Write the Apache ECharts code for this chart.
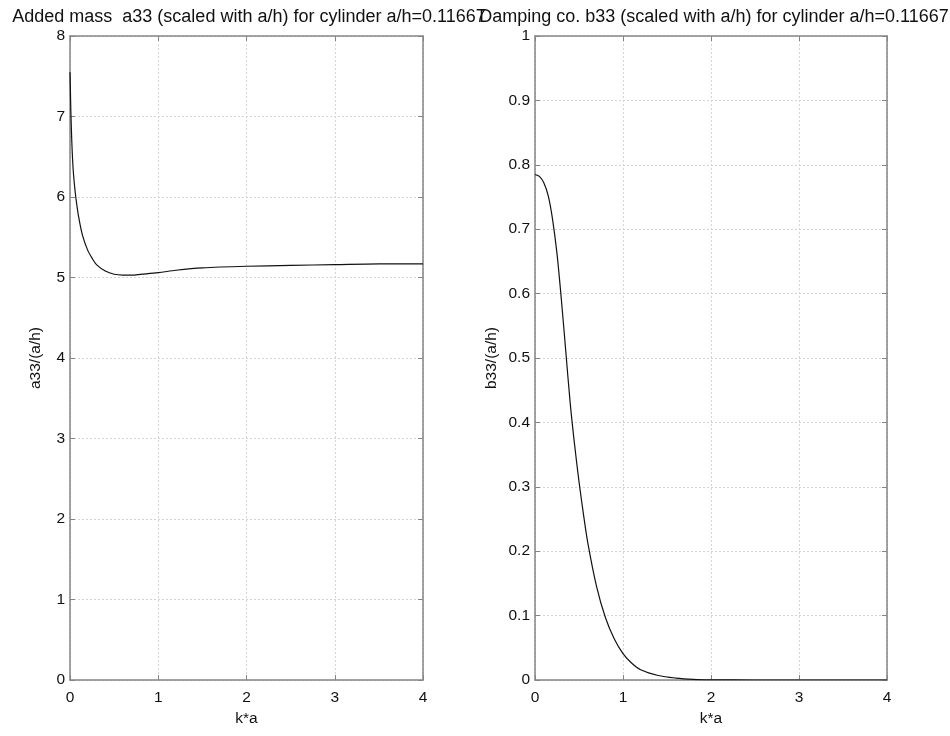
<!DOCTYPE html>
<html>
<head>
<meta charset="utf-8">
<script src="https://cdn.jsdelivr.net/npm/echarts@6/dist/echarts.min.js"></script>
<style>
  html, body { margin: 0; padding: 0; background: #fff; }
  #chart { width: 950px; height: 736px; }
</style>
</head>
<body>
<div id="chart"></div>
<script>
// Added mass a33/(a/h) versus k*a
const kaA33 = [0, 0.005, 0.01, 0.02, 0.03, 0.04, 0.06, 0.08, 0.1, 0.14, 0.2, 0.25, 0.3, 0.4, 0.5, 0.6, 0.7, 0.8, 1.0, 1.2, 1.5, 2.0, 2.5, 3.0, 3.5, 4.0];
const a33 = [7.55, 7.3, 7.05, 6.7, 6.45, 6.28, 6.05, 5.88, 5.74, 5.53, 5.34, 5.24, 5.16, 5.08, 5.04, 5.03, 5.03, 5.04, 5.06, 5.09, 5.12, 5.14, 5.15, 5.16, 5.17, 5.17];

// Damping coefficient b33/(a/h) versus k*a
const kaB33 = [0, 0.05, 0.1, 0.15, 0.2, 0.25, 0.3, 0.35, 0.4, 0.45, 0.5, 0.55, 0.6, 0.7, 0.8, 0.9, 1.0, 1.1, 1.2, 1.4, 1.6, 1.8, 2.0, 2.5, 3.0, 3.5, 4.0];
const b33 = [0.785, 0.782, 0.772, 0.752, 0.715, 0.662, 0.59, 0.51, 0.43, 0.365, 0.308, 0.258, 0.213, 0.145, 0.097, 0.064, 0.041, 0.026, 0.016, 0.007, 0.003, 0.001, 0.0003, 0, 0, 0, 0];

const xTicks = [0, 1, 2, 3, 4];
const a33Range = [0, 8, 1];
const b33Range = [0, 1, 0.1];

const titles = [
  'Added mass  a33 (scaled with a/h) for cylinder a/h=0.11667',
  'Damping co. b33 (scaled with a/h) for cylinder a/h=0.11667'
];
const yNames = ['a33/(a/h)', 'b33/(a/h)'];
const xName = 'k*a';

const FONT = 'Liberation Sans, Arial, sans-serif';
const frame = '#858585';
const gridLine = { show: true, lineStyle: { color: '#d4d4d4', type: [2, 2], width: 1 } };

const grids = [
  { left: 70, top: 36, width: 353, height: 644 },
  { left: 535, top: 36, width: 352, height: 644 }
];

function pairOf(series) { return series.x.map((v, i) => [v, series.y[i]]); }

const panels = [
  { x: kaA33, y: a33, range: a33Range, fmt: v => String(v) },
  { x: kaB33, y: b33, range: b33Range, fmt: v => String(Math.round(v * 10) / 10) }
];

const xAxes = [], yAxes = [], series = [];
panels.forEach((p, i) => {
  // bottom axis with labels
  xAxes.push({
    type: 'value', gridIndex: i, min: xTicks[0], max: xTicks[xTicks.length - 1], interval: 1,
    position: 'bottom',
    name: xName, nameLocation: 'middle', nameGap: 30,
    nameTextStyle: { fontFamily: FONT, fontSize: 15.5, color: '#111' },
    axisLine: { show: true, onZero: false, lineStyle: { color: frame, width: 1.5 } },
    axisTick: { show: true, inside: true, length: 5, lineStyle: { color: frame } },
    axisLabel: { fontFamily: FONT, fontSize: 15.5, color: '#111', margin: 10 },
    splitLine: gridLine
  });
  // top frame edge
  xAxes.push({
    type: 'value', gridIndex: i, min: xTicks[0], max: xTicks[xTicks.length - 1], interval: 1,
    position: 'top',
    axisLine: { show: true, onZero: false, lineStyle: { color: frame, width: 1.5 } },
    axisTick: { show: true, inside: true, length: 5, lineStyle: { color: frame } },
    axisLabel: { show: false }, splitLine: { show: false }
  });
  yAxes.push({
    type: 'value', gridIndex: i, min: p.range[0], max: p.range[1], interval: p.range[2],
    position: 'left',
    name: yNames[i], nameLocation: 'middle', nameGap: i === 0 ? 26 : 35, nameRotate: 90,
    nameTextStyle: { fontFamily: FONT, fontSize: 15.5, color: '#111' },
    axisLine: { show: true, onZero: false, lineStyle: { color: frame, width: 1.5 } },
    axisTick: { show: true, inside: true, length: 5, lineStyle: { color: frame } },
    axisLabel: { fontFamily: FONT, fontSize: 15.5, color: '#111', margin: 5, formatter: p.fmt },
    splitLine: gridLine
  });
  yAxes.push({
    type: 'value', gridIndex: i, min: p.range[0], max: p.range[1], interval: p.range[2],
    position: 'right',
    axisLine: { show: true, onZero: false, lineStyle: { color: frame, width: 1.5 } },
    axisTick: { show: true, inside: true, length: 5, lineStyle: { color: frame } },
    axisLabel: { show: false }, splitLine: { show: false }
  });
  series.push({
    type: 'line', xAxisIndex: i * 2, yAxisIndex: i * 2,
    data: pairOf(p), smooth: 0.3, showSymbol: false, silent: true,
    lineStyle: { color: '#111', width: 1.2 }
  });
});

const chart = echarts.init(document.getElementById('chart'), null, { renderer: 'canvas' });
const titleStyle = { fontFamily: FONT, fontSize: 18, fontWeight: 'normal', color: '#111' };
chart.setOption({
  animation: false,
  backgroundColor: '#fff',
  title: [
    { text: titles[0], left: 244, top: 3, textAlign: 'center', textStyle: titleStyle },
    { text: titles[1], left: 709, top: 3, textAlign: 'center', textStyle: titleStyle }
  ],
  grid: grids,
  xAxis: xAxes,
  yAxis: yAxes,
  series: series
});
</script>
</body>
</html>
